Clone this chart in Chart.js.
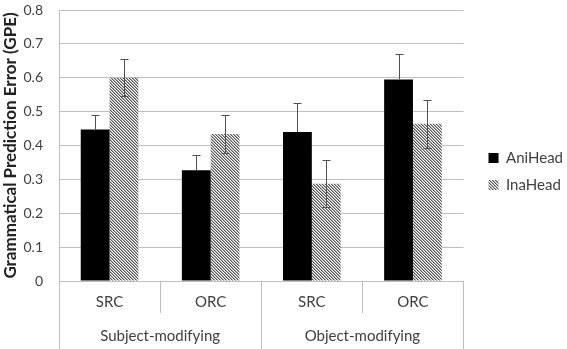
<!DOCTYPE html>
<html>
<head>
<meta charset="utf-8">
<script src="https://cdn.jsdelivr.net/npm/chart.js@4.4.1/dist/chart.umd.min.js"></script>
<style>
  html, body { margin: 0; padding: 0; background: #fff; }
</style>
</head>
<body>
<canvas id="gpeChart" width="567" height="349"></canvas>
<script>
// Data
const categories = ['SRC', 'ORC', 'SRC', 'ORC'];
const groups = ['Subject-modifying', 'Object-modifying'];
const aniHead = [0.447, 0.327, 0.44, 0.595];
const aniErr = [0.043, 0.044, 0.086, 0.075];
const inaHead = [0.60, 0.434, 0.287, 0.464];
const inaErr = [0.055, 0.055, 0.069, 0.07];
const yTicks = [0, 0.1, 0.2, 0.3, 0.4, 0.5, 0.6, 0.7, 0.8];

Chart.defaults.font.family = 'Lato';
Chart.defaults.color = '#404040';

const lineGray = '#bfbfbf';

// fine diagonal hatch for the InaHead bars
function makeHatch() {
  const c = document.createElement('canvas');
  c.width = 3; c.height = 3;
  const g = c.getContext('2d');
  g.fillStyle = '#fff';
  g.fillRect(0, 0, 3, 3);
  for (let i = 0; i < 3; i++) {
    g.fillStyle = '#555';
    g.fillRect(i, i, 1, 1);
    g.fillStyle = '#aaa';
    g.fillRect((i + 1) % 3, i, 1, 1);
  }
  return g.createPattern(c, 'repeat');
}

// draws the error whiskers on top of each bar
// (the lower half on the solid black bars is hidden, as in the original)
const errorBars = {
  id: 'errorBars',
  afterDatasetsDraw(chart) {
    const ctx = chart.ctx;
    const yScale = chart.scales.y;
    ctx.save();
    ctx.strokeStyle = '#505050';
    ctx.lineWidth = 1;
    chart.data.datasets.forEach((ds, d) => {
      chart.getDatasetMeta(d).data.forEach((bar, i) => {
        const x = Math.round(bar.x) + 0.5;
        const top = Math.round(yScale.getPixelForValue(ds.data[i] + ds.errors[i])) + 0.5;
        const bot = ds.lowerWhisker
          ? Math.round(yScale.getPixelForValue(ds.data[i] - ds.errors[i])) + 0.5
          : bar.y;
        ctx.beginPath();
        ctx.moveTo(x, top); ctx.lineTo(x, bot);
        ctx.moveTo(x - 4, top); ctx.lineTo(x + 4, top);
        if (ds.lowerWhisker) {
          ctx.moveTo(x - 4, bot); ctx.lineTo(x + 4, bot);
        }
        ctx.stroke();
      });
    });
    ctx.restore();
  }
};

// nudge the legend block right/up to where the original sits
const legendNudge = {
  id: 'legendNudge',
  afterLayout(chart) {
    const lg = chart.legend;
    lg.left += 13; lg.right += 13;
    lg.top -= 8; lg.bottom -= 8;
  }
};

const ctx = document.getElementById('gpeChart').getContext('2d');

new Chart(ctx, {
  type: 'bar',
  data: {
    labels: categories,
    datasets: [
      {
        label: 'AniHead',
        data: aniHead,
        errors: aniErr,
        lowerWhisker: false,
        backgroundColor: '#000',
        categoryPercentage: 0.57,
        barPercentage: 1.0
      },
      {
        label: 'InaHead',
        data: inaHead,
        errors: inaErr,
        lowerWhisker: true,
        backgroundColor: makeHatch(),
        categoryPercentage: 0.57,
        barPercentage: 1.0
      }
    ]
  },
  options: {
    responsive: false,
    animation: false,
    layout: { padding: { top: 10, right: 7, left: 0, bottom: 0 } },
    plugins: {
      legend: {
        position: 'right',
        labels: {
          boxWidth: 10,
          boxHeight: 10,
          padding: 12,
          font: { size: 15 },
          color: '#404040'
        }
      },
      tooltip: { enabled: false }
    },
    scales: {
      x: {
        grid: { offset: true, drawOnChartArea: false, tickLength: 32, color: lineGray },
        border: { color: lineGray },
        ticks: { padding: -20, font: { size: 15 } },
        afterFit: s => { s.height = 32; s.paddingTop = 0; }
      },
      x2: {
        type: 'category',
        labels: groups,
        position: 'bottom',
        offset: true,
        grid: { offset: true, drawOnChartArea: false, tickLength: 36, color: lineGray },
        border: { display: false },
        ticks: { padding: -22, font: { size: 15 } },
        afterFit: s => { s.height = 36; s.paddingTop = 0; }
      },
      y: {
        min: 0,
        max: 0.8,
        afterBuildTicks: s => { s.ticks = yTicks.map(v => ({ value: v })); },
        afterFit: s => { s.width = 59; s.paddingTop = 0; s.paddingBottom = 0; },
        ticks: { padding: 16, font: { size: 14 } },
        grid: { color: lineGray, drawTicks: false },
        border: { color: lineGray },
        title: {
          display: true,
          text: 'Grammatical Prediction Error (GPE)',
          font: { size: 17, weight: 'bold' },
          color: '#222',
          padding: { top: 0, bottom: 0 }
        }
      }
    }
  },
  plugins: [errorBars, legendNudge]
});
</script>
</body>
</html>
